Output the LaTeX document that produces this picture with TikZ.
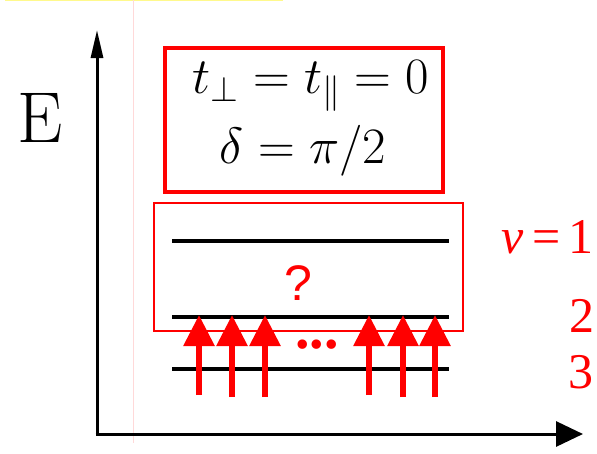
\RequirePackage{fix-cm}
\documentclass[tikz,border=0pt]{standalone}
\usepackage{fontspec}
\newfontfamily\tms{Liberation Serif}
\newfontfamily\lsans{Liberation Sans}
\usetikzlibrary{arrows.meta}
\tikzset{
  axis/.style={line width=3pt, black},
  level/.style={line width=4pt, black},
  uparrow/.style={red, line width=6pt, -{Triangle[width=30pt,length=31pt]}},
  redlabel/.style={red, anchor=east, inner sep=0pt},
}
\newcommand{\lblfont}{\tms\fontsize{50}{56}\selectfont}
\newcommand{\eqfont}{\fontsize{51}{60}\selectfont}
\begin{document}
\begin{tikzpicture}[x=1pt,y=-1pt]
\useasboundingbox (0,0) rectangle (597,453);
% faint guide lines
\draw[yellow!45, line width=1pt] (5,0.6) -- (283,0.6);
\draw[red!15, line width=0.8pt] (133,0) -- (133,443);
% axes
\coordinate (ostart) at (97,435.5);
\coordinate (ostartx) at (95.5,434);
\coordinate (ytip) at (97,30);
\coordinate (xtip) at (583,434);
\draw[axis, -{Triangle[width=12pt,length=28pt]}] (ostart) -- (ytip);
\draw[axis, -{Triangle[width=25pt,length=27pt]}] (ostartx) -- (xtip);
\node (E) at (40,118) {\fontsize{72}{80}\selectfont E};
% parameter box
\node (pbox) [draw=red, line width=4pt, minimum width=278pt, minimum height=144pt, inner sep=0pt] at (304,120) {};
\node (eq1) at (311,86) {\eqfont $t_\perp = t_\parallel = 0$};
\node (eq2) at (303,151) {\eqfont $\delta = \pi/2$};
% thin band box
\node (band) [draw=red, line width=1.5pt, minimum width=309pt, minimum height=128pt, inner sep=0pt] at (308.5,267) {};
% levels
\coordinate (a1) at (172,241); \coordinate (b1) at (449,241);
\coordinate (a2) at (172,317); \coordinate (b2) at (449,317);
\coordinate (a3) at (172,369); \coordinate (b3) at (449,369);
\draw[level] (a1) -- (b1);
\draw[level] (a2) -- (b2);
\draw[level] (a3) -- (b3);
\node (q) [red, inner sep=0pt] at (298,283) {\lsans\fontsize{50}{60}\selectfont ?};
\node (dots) [red, inner sep=0pt] at (317,345) {\tms\bfseries\fontsize{58}{60}\selectfont ...};
% arrows
\foreach \n/\x/\b in {1/199/395, 2/232/397, 3/265/397, 4/369/395, 5/403/397, 6/435/397} {
  \coordinate (s\n) at (\x,\b);
  \coordinate (t\n) at (\x,315);
  \draw[uparrow] (s\n) -- (t\n);
}
% labels
\node (nu1) [redlabel] at (594,237) {\lblfont\textit{ν}\,=\,1};
\node (nu2) [redlabel] at (595,316) {\lblfont 2};
\node (nu3) [redlabel] at (594,372) {\lblfont 3};
\end{tikzpicture}
\end{document}
